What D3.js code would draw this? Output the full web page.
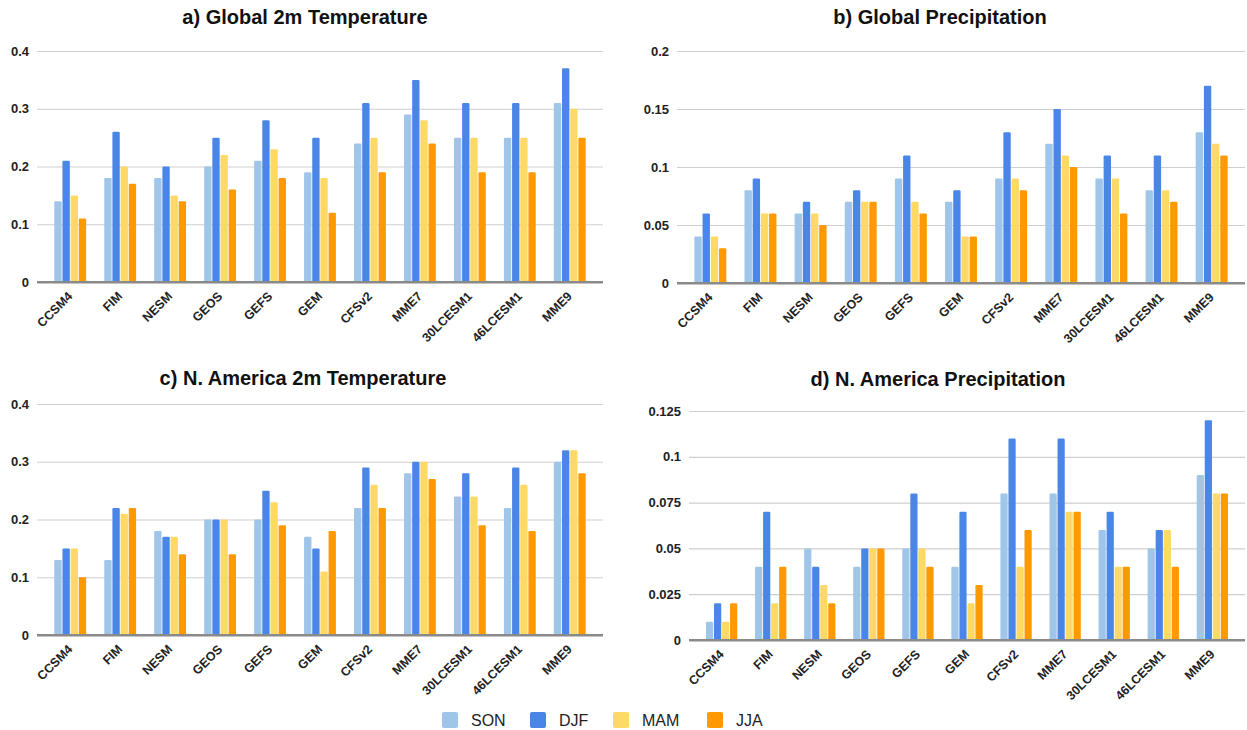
<!DOCTYPE html>
<html>
<head>
<meta charset="utf-8">
<script src="https://cdn.jsdelivr.net/npm/d3@7"></script>
<style>
  body { margin: 0; background: #fff; }
  svg { font-family: "Liberation Sans", Arial, sans-serif; }
</style>
</head>
<body>
<div id="chart"></div>
<script>
// models on the x axis
const models = ["CCSM4", "FIM", "NESM", "GEOS", "GEFS", "GEM", "CFSv2", "MME7", "30LCESM1", "46LCESM1", "MME9"];
const seasons = ["SON", "DJF", "MAM", "JJA"];
const seasonColors = ["#9fc5e8", "#4a86e8", "#ffd966", "#ff9900"];

// a) Global 2m Temperature
const globalT2m = {
  SON: [0.14, 0.18, 0.18, 0.20, 0.21, 0.19, 0.24, 0.29, 0.25, 0.25, 0.31],
  DJF: [0.21, 0.26, 0.20, 0.25, 0.28, 0.25, 0.31, 0.35, 0.31, 0.31, 0.37],
  MAM: [0.15, 0.20, 0.15, 0.22, 0.23, 0.18, 0.25, 0.28, 0.25, 0.25, 0.30],
  JJA: [0.11, 0.17, 0.14, 0.16, 0.18, 0.12, 0.19, 0.24, 0.19, 0.19, 0.25]
};
const globalT2mTicks = [0, 0.1, 0.2, 0.3, 0.4];

// b) Global Precipitation
const globalPrecip = {
  SON: [0.04, 0.08, 0.06, 0.07, 0.09, 0.07, 0.09, 0.12, 0.09, 0.08, 0.13],
  DJF: [0.06, 0.09, 0.07, 0.08, 0.11, 0.08, 0.13, 0.15, 0.11, 0.11, 0.17],
  MAM: [0.04, 0.06, 0.06, 0.07, 0.07, 0.04, 0.09, 0.11, 0.09, 0.08, 0.12],
  JJA: [0.03, 0.06, 0.05, 0.07, 0.06, 0.04, 0.08, 0.10, 0.06, 0.07, 0.11]
};
const globalPrecipTicks = [0, 0.05, 0.1, 0.15, 0.2];

// c) N. America 2m Temperature
const naT2m = {
  SON: [0.13, 0.13, 0.18, 0.20, 0.20, 0.17, 0.22, 0.28, 0.24, 0.22, 0.30],
  DJF: [0.15, 0.22, 0.17, 0.20, 0.25, 0.15, 0.29, 0.30, 0.28, 0.29, 0.32],
  MAM: [0.15, 0.21, 0.17, 0.20, 0.23, 0.11, 0.26, 0.30, 0.24, 0.26, 0.32],
  JJA: [0.10, 0.22, 0.14, 0.14, 0.19, 0.18, 0.22, 0.27, 0.19, 0.18, 0.28]
};
const naT2mTicks = [0, 0.1, 0.2, 0.3, 0.4];

// d) N. America Precipitation
const naPrecip = {
  SON: [0.01, 0.04, 0.05, 0.04, 0.05, 0.04, 0.08, 0.08, 0.06, 0.05, 0.09],
  DJF: [0.02, 0.07, 0.04, 0.05, 0.08, 0.07, 0.11, 0.11, 0.07, 0.06, 0.12],
  MAM: [0.01, 0.02, 0.03, 0.05, 0.05, 0.02, 0.04, 0.07, 0.04, 0.06, 0.08],
  JJA: [0.02, 0.04, 0.02, 0.05, 0.04, 0.03, 0.06, 0.07, 0.04, 0.04, 0.08]
};
const naPrecipTicks = [0, 0.025, 0.05, 0.075, 0.1, 0.125];

const width = 1247, height = 730;

const svg = d3.select("#chart").append("svg")
  .attr("width", width)
  .attr("height", height)
  .attr("viewBox", [0, 0, width, height]);

const color = d3.scaleOrdinal(seasons, seasonColors);
const fmt = d => d === 0 ? "0" : String(+d.toFixed(3));

function GroupedBars(values, {
  title,
  ticks,
  xRange,
  yRange,
  titleX,
  titleY
}) {
  const g = svg.append("g");

  const x = d3.scaleBand(models, xRange).paddingInner(0.33).paddingOuter(0.33);
  const xs = d3.scaleBand(seasons, [0, x.bandwidth()]).padding(0.1);
  const y = d3.scaleLinear([0, d3.max(ticks)], yRange);

  // gridlines + tick labels
  g.append("g")
    .attr("transform", `translate(${xRange[0]},0)`)
    .call(d3.axisLeft(y).tickValues(ticks).tickFormat(fmt).tickSize(0).tickPadding(8))
    .call(g => g.select(".domain").remove())
    .call(g => g.selectAll(".tick text")
      .attr("font-size", 13)
      .attr("font-weight", "bold")
      .attr("fill", "#222"))
    .call(g => g.selectAll(".tick line")
      .attr("x2", xRange[1] - xRange[0])
      .attr("stroke", d => d === 0 ? "#8a8a8a" : "#cfcfcf")
      .attr("stroke-width", d => d === 0 ? 2 : 1.2));

  const rows = models.map((m, i) => ({model: m, vals: seasons.map(s => ({season: s, v: values[s][i]}))}));

  g.append("g")
    .selectAll("g")
    .data(rows)
    .join("g")
    .attr("transform", d => `translate(${x(d.model)},0)`)
    .selectAll("rect")
    .data(d => d.vals)
    .join("rect")
    .attr("x", d => xs(d.season))
    .attr("y", d => y(d.v))
    .attr("width", xs.bandwidth())
    .attr("height", d => y(0) - y(d.v))
    .attr("rx", 1.2)
    .attr("fill", d => color(d.season));

  // redraw baseline on top of bars
  g.append("line")
    .attr("x1", xRange[0]).attr("x2", xRange[1])
    .attr("y1", y(0)).attr("y2", y(0))
    .attr("stroke", "#8a8a8a")
    .attr("stroke-width", 2);

  // x labels, rotated
  g.append("g")
    .selectAll("text")
    .data(models)
    .join("text")
    .attr("transform", d => `translate(${x(d) + x.bandwidth() / 2 + 3},${y(0) + 15}) rotate(-45)`)
    .attr("text-anchor", "end")
    .attr("font-size", 12.5)
    .attr("font-weight", "bold")
    .attr("fill", "#222")
    .text(d => d);

  g.append("text")
    .attr("x", titleX)
    .attr("y", titleY)
    .attr("text-anchor", "middle")
    .attr("font-size", 20)
    .attr("font-weight", "bold")
    .attr("fill", "#111")
    .text(title);
}

GroupedBars(globalT2m, {title: "a) Global 2m Temperature", ticks: globalT2mTicks,
  xRange: [37, 603], yRange: [282, 51], titleX: 305, titleY: 24});
GroupedBars(globalPrecip, {title: "b) Global Precipitation", ticks: globalPrecipTicks,
  xRange: [677, 1245], yRange: [283, 51], titleX: 940, titleY: 24});
GroupedBars(naT2m, {title: "c) N. America 2m Temperature", ticks: naT2mTicks,
  xRange: [37, 603], yRange: [635, 404], titleX: 303, titleY: 385});
GroupedBars(naPrecip, {title: "d) N. America Precipitation", ticks: naPrecipTicks,
  xRange: [689, 1245], yRange: [640, 411], titleX: 938, titleY: 386});

// legend
const legendX = [442, 530, 613, 707];
const legend = svg.append("g")
  .selectAll("g")
  .data(seasons)
  .join("g")
  .attr("transform", (d, i) => `translate(${legendX[i]},712)`);

legend.append("rect")
  .attr("width", 16)
  .attr("height", 16)
  .attr("rx", 2)
  .attr("fill", d => color(d));

legend.append("text")
  .attr("x", 29)
  .attr("y", 14)
  .attr("font-size", 16)
  .attr("fill", "#222")
  .text(d => d);
</script>
</body>
</html>
